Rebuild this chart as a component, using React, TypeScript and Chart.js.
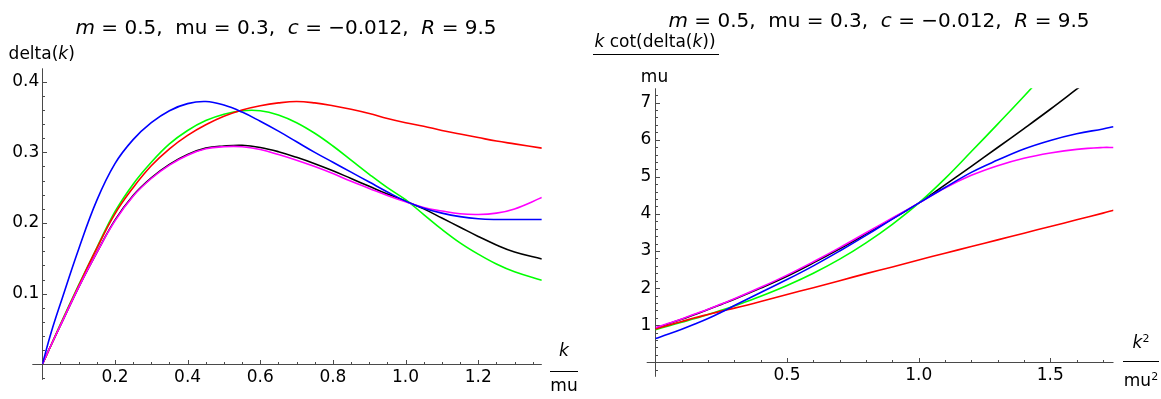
import React, { useEffect, useRef } from "react";
import { Chart, registerables } from "chart.js";

Chart.register(...registerables);

const FONT = "'DejaVu Sans', 'Liberation Sans', Arial, sans-serif";

// ---------- Left panel: delta(k) versus k/mu ----------
const leftK = [0, 0.025, 0.05, 0.1, 0.15, 0.2, 0.25, 0.3, 0.35, 0.4, 0.45, 0.5, 0.55, 0.6, 0.65, 0.7, 0.75, 0.8, 0.85, 0.9, 0.95, 1.0, 1.05, 1.1, 1.15, 1.2, 1.25, 1.3, 1.375];
const leftBlue = [0, 0.046, 0.086, 0.163, 0.232, 0.284, 0.318, 0.342, 0.359, 0.369, 0.372, 0.367, 0.357, 0.344, 0.33, 0.315, 0.3, 0.286, 0.272, 0.258, 0.244, 0.231, 0.221, 0.214, 0.209, 0.206, 0.205, 0.205, 0.205];
const leftRed = [0, 0.028, 0.056, 0.111, 0.164, 0.213, 0.25, 0.281, 0.305, 0.324, 0.339, 0.351, 0.36, 0.366, 0.37, 0.372, 0.37, 0.366, 0.361, 0.355, 0.348, 0.342, 0.337, 0.331, 0.326, 0.321, 0.316, 0.312, 0.306];
const leftGreen = [0, 0.028, 0.057, 0.112, 0.165, 0.216, 0.255, 0.286, 0.312, 0.331, 0.345, 0.354, 0.359, 0.359, 0.353, 0.342, 0.327, 0.309, 0.289, 0.269, 0.25, 0.233, 0.212, 0.191, 0.172, 0.156, 0.142, 0.131, 0.119];
const leftBlack = [0, 0.028, 0.055, 0.109, 0.158, 0.204, 0.239, 0.264, 0.283, 0.297, 0.306, 0.309, 0.31, 0.307, 0.301, 0.293, 0.284, 0.274, 0.263, 0.252, 0.241, 0.231, 0.22, 0.207, 0.194, 0.181, 0.169, 0.159, 0.149];
const leftMagenta = [0, 0.028, 0.055, 0.109, 0.158, 0.203, 0.238, 0.263, 0.282, 0.296, 0.305, 0.308, 0.308, 0.304, 0.297, 0.289, 0.28, 0.27, 0.259, 0.249, 0.239, 0.23, 0.222, 0.217, 0.213, 0.212, 0.214, 0.22, 0.236];

const leftXMajor = [0.2, 0.4, 0.6, 0.8, 1.0, 1.2];
const leftXMinor = [0.05, 0.1, 0.15, 0.25, 0.3, 0.35, 0.45, 0.5, 0.55, 0.65, 0.7, 0.75, 0.85, 0.9, 0.95, 1.05, 1.1, 1.15, 1.25, 1.3, 1.35];
const leftYMajor = [0.1, 0.2, 0.3, 0.4];
const leftYMinor = [-0.02, 0.02, 0.04, 0.06, 0.08, 0.12, 0.14, 0.16, 0.18, 0.22, 0.24, 0.26, 0.28, 0.32, 0.34, 0.36, 0.38];

// ---------- Right panel: k cot(delta(k))/mu versus k^2/mu^2 ----------
const rightK2 = [0, 0.05, 0.1, 0.15, 0.2, 0.25, 0.3, 0.4, 0.5, 0.6, 0.7, 0.8, 0.9, 1.0, 1.1, 1.2, 1.3, 1.4, 1.5, 1.6, 1.7, 1.74];
const rightRed = [0.9, 1.0, 1.1, 1.2, 1.29, 1.38, 1.46, 1.64, 1.83, 2.01, 2.2, 2.39, 2.57, 2.76, 2.94, 3.12, 3.3, 3.48, 3.66, 3.84, 4.02, 4.1];
const rightBlue = [0.64, 0.76, 0.89, 1.03, 1.18, 1.35, 1.53, 1.88, 2.23, 2.6, 3.0, 3.42, 3.86, 4.29, 4.71, 5.12, 5.45, 5.75, 5.98, 6.16, 6.29, 6.35];
const rightGreen = [0.88, 0.98, 1.08, 1.18, 1.29, 1.4, 1.52, 1.78, 2.07, 2.4, 2.78, 3.22, 3.72, 4.29, 4.95, 5.68, 6.42, 7.17, 7.95, null, null, null];
const rightBlack = [0.92, 1.04, 1.16, 1.29, 1.42, 1.56, 1.7, 2.0, 2.32, 2.68, 3.06, 3.46, 3.87, 4.29, 4.78, 5.28, 5.79, 6.3, 6.82, 7.36, 7.9, null];
const rightMagenta = [0.93, 1.05, 1.17, 1.3, 1.43, 1.57, 1.71, 2.02, 2.35, 2.71, 3.09, 3.49, 3.89, 4.29, 4.7, 5.04, 5.3, 5.5, 5.64, 5.74, 5.79, 5.79];

const rightXMajor = [0.5, 1.0, 1.5];
const rightXMinor = [0.1, 0.2, 0.3, 0.4, 0.6, 0.7, 0.8, 0.9, 1.1, 1.2, 1.3, 1.4, 1.6, 1.7];
const rightYMajor = [1, 2, 3, 4, 5, 6, 7];
const rightYMinor = [-0.2, 0.2, 0.4, 0.6, 0.8, 1.2, 1.4, 1.6, 1.8, 2.2, 2.4, 2.6, 2.8, 3.2, 3.4, 3.6, 3.8, 4.2, 4.4, 4.6, 4.8, 5.2, 5.4, 5.6, 5.8, 6.2, 6.4, 6.6, 6.8, 7.2];

const AXIS_COLOR = "#4a4a4a";
const TICK_FONT_SIZE = 17;

type Series = { name: string; values: (number | null)[]; color: string; order: number; width?: number };

type Panel = {
  xs: number[];
  series: Series[];
  xMin: number; xMax: number; yMin: number; yMax: number;
  xAxisFrom: number; yAxisFrom: number;
  xMajor: number[]; xMinor: number[]; yMajor: number[]; yMinor: number[];
  xFmt: (v: number) => string; yFmt: (v: number) => string;
  padTop: number; padRight: number; yBox: number; xBox: number;
  xLabelPad: number; yLabelPad: number;
};

function axesPlugin(p: Panel) {
  return {
    id: "mmaAxes",
    beforeDatasetsDraw(chart: any) {
      const ctx = chart.ctx as CanvasRenderingContext2D;
      const xs = chart.scales.x;
      const ys = chart.scales.y;
      const x0 = Math.round(xs.getPixelForValue(0)) + 0.5;
      const y0 = Math.round(ys.getPixelForValue(0)) + 0.5;
      ctx.save();
      ctx.strokeStyle = AXIS_COLOR;
      ctx.lineWidth = 1;
      const seg = (a: number, b: number, c: number, d: number) => {
        ctx.beginPath();
        ctx.moveTo(a, b);
        ctx.lineTo(c, d);
        ctx.stroke();
      };
      seg(xs.getPixelForValue(p.xAxisFrom), y0, xs.right, y0);
      seg(x0, ys.getPixelForValue(p.yAxisFrom), x0, ys.top);
      p.xMajor.forEach((v) => { const px = Math.round(xs.getPixelForValue(v)) + 0.5; seg(px, y0, px, y0 - 4.5); });
      p.xMinor.forEach((v) => { const px = Math.round(xs.getPixelForValue(v)) + 0.5; seg(px, y0, px, y0 - 2.5); });
      p.yMajor.forEach((v) => { const py = Math.round(ys.getPixelForValue(v)) + 0.5; seg(x0, py, x0 + 4.5, py); });
      p.yMinor.forEach((v) => { const py = Math.round(ys.getPixelForValue(v)) + 0.5; seg(x0, py, x0 + 2.5, py); });
      ctx.restore();
    },
  };
}

function makeConfig(p: Panel): any {
  return {
    type: "line",
    data: {
      datasets: p.series.map((s) => ({
        label: s.name,
        data: p.xs.map((x, i) => ({ x, y: s.values[i] })),
        borderColor: s.color,
        backgroundColor: s.color,
        borderWidth: s.width ?? 1.6,
        pointRadius: 0,
        fill: false,
        tension: 0.4,
        order: s.order,
        spanGaps: false,
      })),
    },
    plugins: [axesPlugin(p)],
    options: {
      responsive: false,
      animation: false,
      events: [],
      layout: { autoPadding: false, padding: { left: 0, top: p.padTop, right: p.padRight, bottom: 0 } },
      plugins: { legend: { display: false }, tooltip: { enabled: false }, title: { display: false } },
      scales: {
        x: {
          type: "linear",
          min: p.xMin,
          max: p.xMax,
          grid: { display: false, drawTicks: false },
          border: { display: false },
          ticks: {
            font: { family: FONT, size: TICK_FONT_SIZE },
            color: "#000",
            padding: p.xLabelPad,
            maxRotation: 0,
            autoSkip: false,
            callback: (v: any) => p.xFmt(Number(v)),
          },
          afterBuildTicks: (s: any) => { s.ticks = p.xMajor.map((v) => ({ value: v })); },
          afterFit: (s: any) => { s.height = p.xBox; },
        },
        y: {
          type: "linear",
          min: p.yMin,
          max: p.yMax,
          grid: { display: false, drawTicks: false },
          border: { display: false },
          ticks: {
            font: { family: FONT, size: TICK_FONT_SIZE },
            color: "#000",
            padding: p.yLabelPad,
            autoSkip: false,
            callback: (v: any) => p.yFmt(Number(v)),
          },
          afterBuildTicks: (s: any) => { s.ticks = p.yMajor.map((v) => ({ value: v })); },
          afterFit: (s: any) => { s.width = p.yBox; },
        },
      },
    },
  };
}

const leftPanel: Panel = {
  xs: leftK,
  series: [
    { name: "blue", values: leftBlue, color: "#0000ff", order: 0 },
    { name: "magenta", values: leftMagenta, color: "#ff00ff", order: 1 },
    { name: "red", values: leftRed, color: "#ff0000", order: 2 },
    { name: "green", values: leftGreen, color: "#00ff00", order: 3 },
    { name: "black", values: leftBlack, color: "#000000", order: 4 },
  ],
  xMin: 0, xMax: 1.375, yMin: 0, yMax: 0.419,
  xAxisFrom: -0.0275, yAxisFrom: -0.022,
  xMajor: leftXMajor, xMinor: leftXMinor, yMajor: leftYMajor, yMinor: leftYMinor,
  xFmt: (v) => v.toFixed(1), yFmt: (v) => v.toFixed(1),
  padTop: 68.3, padRight: 38.2, yBox: 42.3, xBox: 34.7,
  xLabelPad: 3, yLabelPad: 3,
};

const rightPanel: Panel = {
  xs: rightK2,
  series: [
    { name: "blue", values: rightBlue, color: "#0000ff", order: 0 },
    { name: "magenta", values: rightMagenta, color: "#ff00ff", order: 1 },
    { name: "red", values: rightRed, color: "#ff0000", order: 2 },
    { name: "green", values: rightGreen, color: "#00ff00", order: 3 },
    { name: "black", values: rightBlack, color: "#000000", order: 4 },
  ],
  xMin: 0, xMax: 1.74, yMin: 0, yMax: 7.385,
  xAxisFrom: -0.033, yAxisFrom: -0.39,
  xMajor: rightXMajor, xMinor: rightXMinor, yMajor: rightYMajor, yMinor: rightYMinor,
  xFmt: (v) => v.toFixed(1), yFmt: (v) => String(Math.round(v)),
  padTop: 88.3, padRight: 47.5, yBox: 75.4, xBox: 36.7,
  xLabelPad: 3, yLabelPad: 4,
};

function T(props: { x: number; y: number; size?: number; children: any }) {
  return (
    <div
      style={{
        position: "absolute",
        left: props.x,
        top: props.y,
        transform: "translate(-50%, -50%)",
        fontSize: props.size ?? 17,
        lineHeight: 1,
        whiteSpace: "pre",
        fontFamily: FONT,
        color: "#000",
      }}
    >
      {props.children}
    </div>
  );
}

function Rule(props: { x: number; y: number; w: number }) {
  return <div style={{ position: "absolute", left: props.x, top: props.y, width: props.w, height: 1, background: "#000" }} />;
}

const sup = { fontSize: "0.65em", position: "relative" as const, top: "-0.55em" };

export default function App() {
  const leftRef = useRef<HTMLCanvasElement | null>(null);
  const rightRef = useRef<HTMLCanvasElement | null>(null);

  useEffect(() => {
    const c1 = new Chart(leftRef.current as HTMLCanvasElement, makeConfig(leftPanel));
    const c2 = new Chart(rightRef.current as HTMLCanvasElement, makeConfig(rightPanel));
    return () => {
      c1.destroy();
      c2.destroy();
    };
  }, []);

  const title = (
    <>
      <i>m</i>{" = 0.5,  mu = 0.3,  "}<i>c</i>{" = \u22120.012,  "}<i>R</i>{" = 9.5"}
    </>
  );

  return (
    <div style={{ position: "fixed", left: 0, top: 0, width: 1161, height: 399, background: "#fff", overflow: "hidden" }}>
      <canvas ref={leftRef} width={580} height={399} style={{ position: "absolute", left: 0, top: 0, width: 580, height: 399 }} />
      <canvas ref={rightRef} width={581} height={399} style={{ position: "absolute", left: 580, top: 0, width: 581, height: 399 }} />

      <T x={286} y={27} size={20}>{title}</T>
      <T x={879} y={20} size={20}>{title}</T>

      <T x={41.7} y={53}>delta(<i>k</i>)</T>
      <T x={564} y={350}><i>k</i></T>
      <Rule x={550} y={370.5} w={28} />
      <T x={564} y={385}>mu</T>

      <T x={655} y={41}><i>k</i>{" cot(delta("}<i>k</i>{"))"}</T>
      <Rule x={593} y={53.5} w={126} />
      <T x={654.5} y={75.5}>mu</T>

      <T x={1141} y={342}><i>k</i><span style={sup}>2</span></T>
      <Rule x={1122.6} y={361} w={36.5} />
      <T x={1141} y={380}>mu<span style={sup}>2</span></T>
    </div>
  );
}
